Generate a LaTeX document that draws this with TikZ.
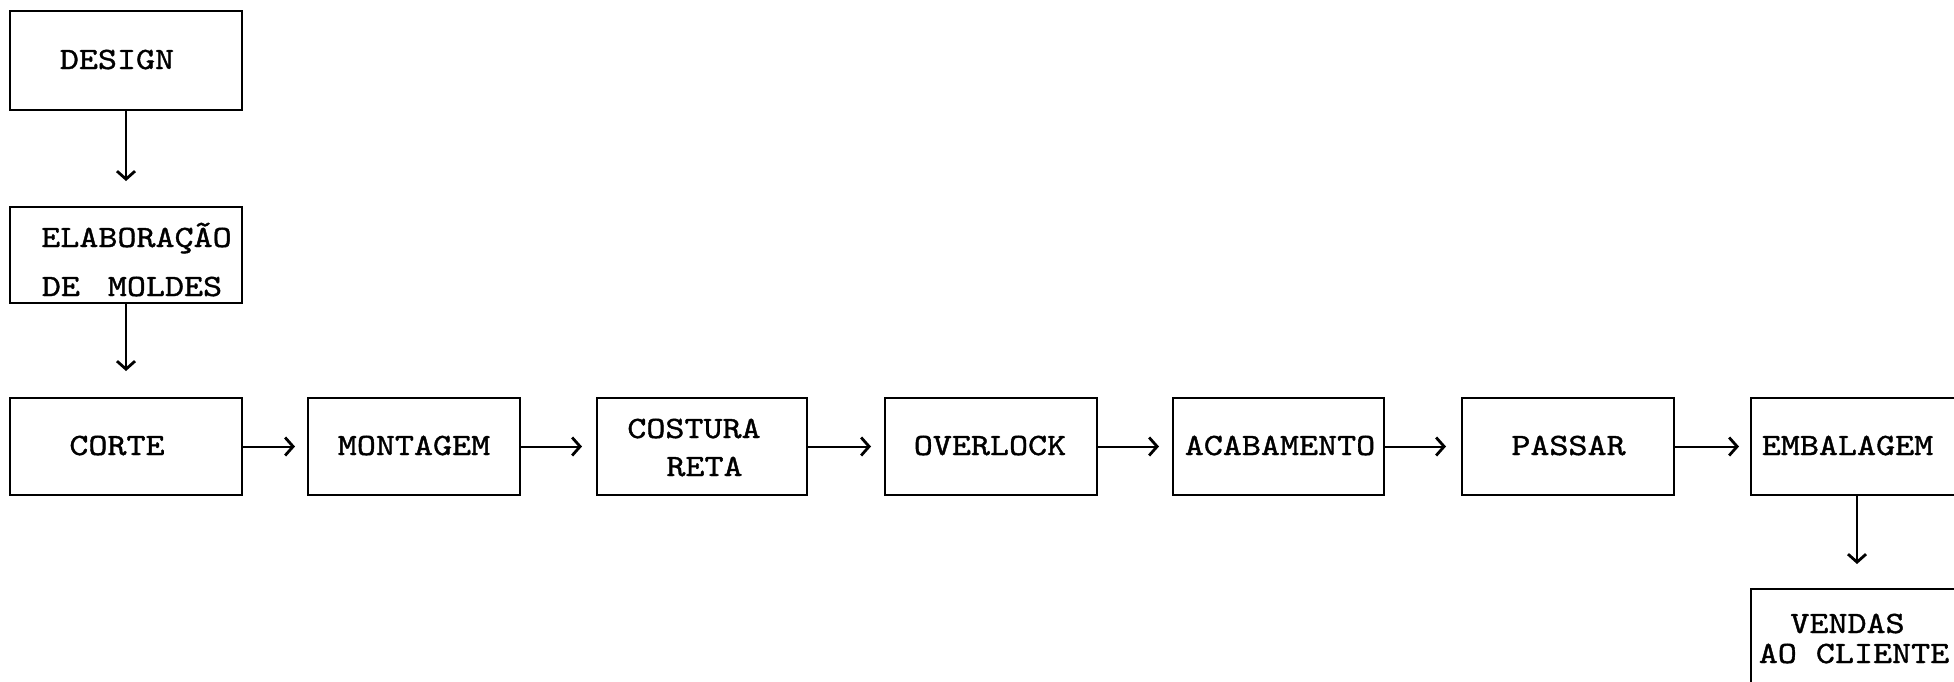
\documentclass[tikz,border=0pt]{standalone}
\usepackage{fontspec}
\usetikzlibrary{arrows.meta,fit}
\newfontfamily\cour[Extension=.otf,FakeStretch=1.17,FakeBold=1.2]{lmmono10-regular}
\begin{document}
\begin{tikzpicture}[x=0.5pt,y=-0.5pt,
  box/.style={draw,line width=1pt,inner sep=0pt},
  txt/.style={font=\cour\fontsize{15.5}{18}\selectfont,inner sep=0pt,anchor=base},
  arr/.style={line width=1pt,-{Straight Barb[length=4pt,width=9pt,line width=1.4pt]}}]
\useasboundingbox (0,0) rectangle (1954,681);
% boxes
\node[box,fit={(10,11) (242,110)}] (design) {};
\node[box,fit={(10,207) (242,303)}] (elab) {};
\node[box,fit={(10,398) (242,495)}] (corte) {};
\node[box,fit={(308,398) (520,495)}] (montagem) {};
\node[box,fit={(597,398) (807,495)}] (costura) {};
\node[box,fit={(885,398) (1097,495)}] (overlock) {};
\node[box,fit={(1173,398) (1384,495)}] (acab) {};
\node[box,fit={(1462,398) (1674,495)}] (passar) {};
\node[box,fit={(1751,398) (1963,495)}] (embal) {};
\node[box,fit={(1751,589) (1963,700)}] (vendas) {};
% texts
\node[txt] (designT) at (117,69) {DESIGN};
\node[txt] (elabT1) at (136.5,247) {ELABORAÇÃO};
\node[txt] (elabT2) at (132,296) {DE\hspace{14pt}MOLDES};
\node[txt] (corteT) at (117,455) {CORTE};
\node[txt] (montagemT) at (414,455) {MONTAGEM};
\node[txt] (costuraT1) at (694,438) {COSTURA};
\node[txt] (costuraT2) at (704.5,476) {RETA};
\node[txt] (overlockT) at (990,455) {OVERLOCK};
\node[txt] (acabT) at (1280,455) {ACABAMENTO};
\node[txt] (passarT) at (1568.5,455) {PASSAR};
\node[txt] (embalT) at (1847.5,455) {EMBALAGEM};
\node[txt] (vendasT1) at (1847.5,633) {VENDAS};
\node[txt] (vendasT2) at (1854,663) {AO CLIENTE};
% connectors
\draw[arr,shorten >=12.5pt] (design) -- (elab);
\draw[arr,shorten >=13pt] (elab) -- (corte);
\draw[arr,shorten >=6pt] (corte) -- (montagem);
\draw[arr,shorten >=7pt] (montagem) -- (costura);
\draw[arr,shorten >=6.5pt] (costura) -- (overlock);
\draw[arr,shorten >=6.5pt] (overlock) -- (acab);
\draw[arr,shorten >=7.5pt] (acab) -- (passar);
\draw[arr,shorten >=5.5pt] (passar) -- (embal);
\draw[arr,shorten >=12pt] (embal) -- (vendas);
\end{tikzpicture}
\end{document}
